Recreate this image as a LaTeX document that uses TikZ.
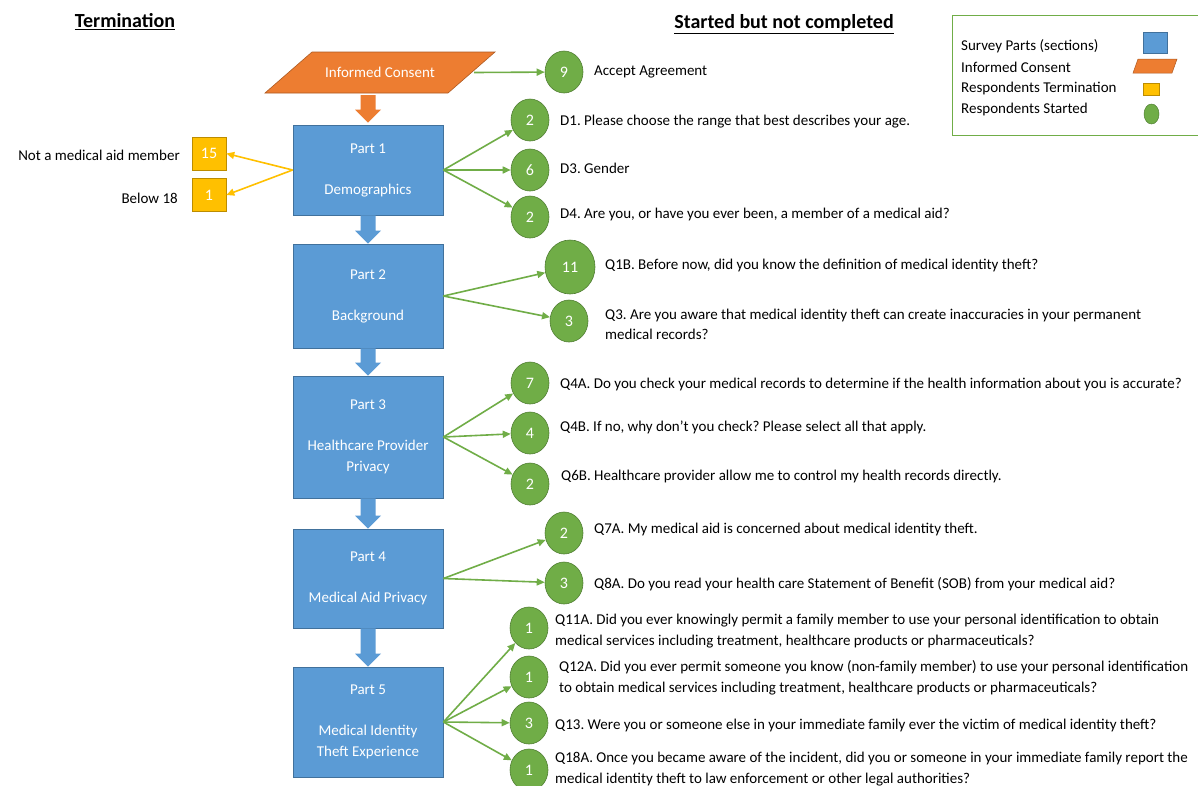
\documentclass[tikz,border=0pt]{standalone}
\usepackage{fontspec}
\setmainfont{Carlito}
\usetikzlibrary{arrows.meta,calc,shapes.geometric}
\definecolor{pblue}{HTML}{5B9BD5}
\definecolor{pborder}{HTML}{41719C}
\definecolor{porange}{HTML}{ED7D31}
\definecolor{oborder}{HTML}{AE5A21}
\definecolor{yel}{HTML}{FFC000}
\definecolor{yborder}{HTML}{BC8C00}
\definecolor{ggreen}{HTML}{70AD47}
\definecolor{gborder}{HTML}{507E32}
\newcommand\blockarr[4]{\fill[#3] let \p1=(#1.south), \p2=(#2.north) in
 (\x2-7.5pt,\y1-#4) -- (\x2+7.5pt,\y1-#4) -- (\x2+7.5pt,\y2+#4+13pt) -- (\x2+13pt,\y2+#4+13pt) -- (\x2,\y2+#4) -- (\x2-13pt,\y2+#4+13pt) -- (\x2-7.5pt,\y2+#4+13pt) -- cycle;}
\frenchspacing
\begin{document}
\begin{tikzpicture}[x=1pt,y=-1pt,font=\fontsize{15}{20.5}\selectfont,
 part/.style={draw=pborder, fill=pblue, text=white, minimum width=150pt, align=center, inner sep=0pt, line width=0.8pt},
 ans/.style={ellipse, draw=gborder, fill=ggreen, text=white, minimum width=38pt, minimum height=42pt, inner sep=0pt, line width=0.6pt, font=\fontsize{16}{18}\selectfont},
 term/.style={draw=yborder, fill=yel, text=white, minimum width=34pt, minimum height=33pt, inner sep=0pt, line width=0.6pt, font=\fontsize{16}{18}\selectfont},
 q/.style={anchor=west, align=left, inner sep=0pt, yshift=-1.5pt},
 garrow/.style={draw=ggreen, line width=1.6pt, -{Triangle[length=8pt,width=7pt]}},
 yarrow/.style={draw=yel, line width=1.6pt, -{Triangle[length=8pt,width=7pt]}},
 ttl/.style={font=\fontsize{20}{22}\selectfont\bfseries, inner sep=0pt}]
\useasboundingbox (0,0) rectangle (1198,785);
\fill[white] (0,0) rectangle (1198,785);

% titles
\node[ttl] (t1) at (125,22) {\underline{Termination}};
\node[ttl] (t2) at (784,24) {\underline{Started but not completed}};

% legend
\draw[ggreen, line width=0.8pt] (952,15) rectangle (1210,135);
\node[q] (l1) at (961,45) {Survey Parts (sections)};
\node[q] (l2) at (961,66) {Informed Consent};
\node[q] (l3) at (961,87) {Respondents Termination};
\node[q] (l4) at (961,108) {Respondents Started};
\filldraw[fill=pblue, draw=pborder, line width=0.5pt] (1143,32) rectangle (1167,53);
\filldraw[fill=porange, draw=oborder, line width=0.5pt] (1138,59) -- (1177,59) -- (1172,73) -- (1133,73) -- cycle;
\filldraw[fill=yel, draw=yborder, line width=0.5pt] (1143,83) rectangle (1159,95);
\filldraw[fill=ggreen, draw=gborder, line width=0.5pt] (1151.5,114) ellipse [x radius=7.5pt, y radius=10pt];

% informed consent
\filldraw[fill=porange, draw=oborder, line width=0.6pt] (312,52) -- (495,52) -- (448,93) -- (265,93) -- cycle;
\node[text=white, minimum width=188pt, minimum height=41pt, inner sep=0pt] (ic) at (380,72.5) {Informed Consent};

% parts
\node[part, minimum height=90pt] (p1) at (368,170) {Part 1\\[20.5pt]Demographics};
\node[part, minimum height=104pt] (p2) at (368,296) {Part 2\\[20.5pt]Background};
\node[part, minimum height=122pt] (p3) at (368,437) {Part 3\\[20.5pt]Healthcare Provider\\Privacy};
\node[part, minimum height=99pt] (p4) at (368,578.5) {Part 4\\[20.5pt]Medical Aid Privacy};
\node[part, minimum height=110pt] (p5) at (368,722) {Part 5\\[20.5pt]Medical Identity\\Theft Experience};

\blockarr{ic}{p1}{porange}{2pt}
\blockarr{p1}{p2}{pblue}{0pt}
\blockarr{p2}{p3}{pblue}{0pt}
\blockarr{p3}{p4}{pblue}{0pt}
\blockarr{p4}{p5}{pblue}{0pt}

% termination
\node[term] (t15) at (209,153.5) {15};
\node[term] (t01) at (209,195) {1};
\node[anchor=east, inner sep=0pt] (n15) at (180,155) {Not a medical aid member};
\node[anchor=east, inner sep=0pt] (n01) at (178,198) {Below 18};
\draw[yarrow] (p1.west) -- (t15.east);
\draw[yarrow] (p1.west) -- (t01.east);

% answers
\node[ans] (c9) at (564,72) {9};
\node[ans] (a1) at (530,120) {2};
\node[ans] (a2) at (530,170) {6};
\node[ans] (a3) at (530,217) {2};
\node[ans, minimum width=50pt, minimum height=54pt] (b1) at (570,267) {11};
\node[ans] (b2) at (569,321) {3};
\node[ans] (h1) at (530,383) {7};
\node[ans] (h2) at (530,433) {4};
\node[ans] (h3) at (530,484) {2};
\node[ans] (m1) at (564,533) {2};
\node[ans] (m2) at (564,583) {3};
\node[ans] (e1) at (529,628) {1};
\node[ans] (e2) at (529,677) {1};
\node[ans] (e3) at (529,723) {3};
\node[ans] (e4) at (529,770) {1};

\draw[garrow] (ic.east) -- (c9);
\foreach \n in {a1,a2,a3} \draw[garrow] (p1.east) -- (\n);
\foreach \n in {b1,b2} \draw[garrow] (p2.east) -- (\n);
\foreach \n in {h1,h2,h3} \draw[garrow] (p3.east) -- (\n);
\foreach \n in {m1,m2} \draw[garrow] (p4.east) -- (\n);
\foreach \n in {e1,e2,e3,e4} \draw[garrow] (p5.east) -- (\n);

% questions
\node[q] (qc9) at (594,70) {Accept Agreement};
\node[q] (qa1) at (560,120) {D1. Please choose the range that best describes your age.};
\node[q] (qa2) at (560,167) {D3. Gender};
\node[q] (qa3) at (560,213) {D4. Are you, or have you ever been, a member of a medical aid?};
\node[q] (qb1) at (605,264) {Q1B. Before now, did you know the definition of medical identity theft?};
\node[q] (qb2) at (605,323) {Q3. Are you aware that medical identity theft can create inaccuracies in your permanent\\medical records?};
\node[q] (qh1) at (560,383) {Q4A. Do you check your medical records to determine if the health information about you is accurate?};
\node[q] (qh2) at (560,426) {Q4B. If no, why don’t you check? Please select all that apply.};
\node[q] (qh3) at (561,475) {Q6B. Healthcare provider allow me to control my health records directly.};
\node[q] (qm1) at (594,528) {Q7A. My medical aid is concerned about medical identity theft.};
\node[q] (qm2) at (594,583) {Q8A. Do you read your health care Statement of Benefit (SOB) from your medical aid?};
\node[q] (qe1) at (555,629.5) {Q11A. Did you ever knowingly permit a family member to use your personal identification to obtain\\medical services including treatment, healthcare products or pharmaceuticals?};
\node[q] (qe2) at (559,676.5) {Q12A. Did you ever permit someone you know (non-family member) to use your personal identification\\to obtain medical services including treatment, healthcare products or pharmaceuticals?};
\node[q] (qe3) at (555,724) {Q13. Were you or someone else in your immediate family ever the victim of medical identity theft?};
\node[q] (qe4) at (555,767.5) {Q18A. Once you became aware of the incident, did you or someone in your immediate family report the\\medical identity theft to law enforcement or other legal authorities?};
\end{tikzpicture}
\end{document}
